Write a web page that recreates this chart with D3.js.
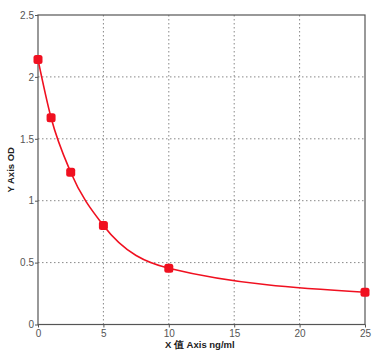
<!DOCTYPE html>
<html>
<head>
<meta charset="utf-8">
<script src="https://cdn.jsdelivr.net/npm/d3@7"></script>
<style>
  body { margin: 0; background: #fff; }
  text { font-family: "Liberation Sans", Arial, sans-serif; }
</style>
</head>
<body>
<div id="chart"></div>
<script>
const conc = [0, 1, 2.5, 5, 10, 25];
const od = [2.14, 1.67, 1.23, 0.8, 0.455, 0.26];
const xTicks = [0, 5, 10, 15, 20, 25];
const yTicks = [0, 0.5, 1, 1.5, 2, 2.5];

const width = 387, height = 356;
const margin = { top: 15, right: 22, bottom: 32, left: 38 };

const svg = d3.select("#chart").append("svg")
  .attr("width", width).attr("height", height);

const x = d3.scaleLinear().domain([0, 25]).range([margin.left, width - margin.right]);
const y = d3.scaleLinear().domain([0, 2.5]).range([height - margin.bottom + 0.5, margin.top]);

// grid
svg.append("g").selectAll("line.gx")
  .data(xTicks.slice(1, -1)).join("line")
  .attr("x1", d => x(d)).attr("x2", d => x(d))
  .attr("y1", y(0)).attr("y2", y(2.5))
  .attr("stroke", "#888").attr("stroke-dasharray", "1.5,2.5");
svg.append("g").selectAll("line.gy")
  .data(yTicks.slice(1, -1)).join("line")
  .attr("y1", d => y(d)).attr("y2", d => y(d))
  .attr("x1", x(0)).attr("x2", x(25))
  .attr("stroke", "#888").attr("stroke-dasharray", "1.5,2.5");

// frame
svg.append("rect")
  .attr("x", x(0)).attr("y", y(2.5))
  .attr("width", x(25) - x(0)).attr("height", y(0) - y(2.5))
  .attr("fill", "none").attr("stroke", "#555").attr("stroke-width", 1.2);

// axes
const xAxis = svg.append("g")
  .attr("transform", `translate(0,${y(0)})`)
  .call(d3.axisBottom(x).tickValues(xTicks).tickSize(3).tickSizeOuter(0));
const yAxis = svg.append("g")
  .attr("transform", `translate(${x(0)},0)`)
  .call(d3.axisLeft(y).tickValues(yTicks).tickSize(3).tickSizeOuter(0).tickFormat(d3.format("")));
[xAxis, yAxis].forEach(a => {
  a.select(".domain").remove();
  a.selectAll(".tick line").attr("stroke", "#555");
  a.selectAll(".tick text").attr("fill", "#555").attr("font-size", 10);
});
xAxis.selectAll(".tick text").attr("dy", "0.6em");
yAxis.selectAll(".tick text").attr("x", -4);

// curve
svg.append("path")
  .datum(conc.map((c, i) => [c, od[i]]))
  .attr("fill", "none").attr("stroke", "#f01020").attr("stroke-width", 1.6)
  .attr("d", d3.line().x(d => x(d[0])).y(d => y(d[1])).curve(d3.curveMonotoneX));

svg.append("g").selectAll("rect")
  .data(conc.map((c, i) => [c, od[i]])).join("rect")
  .attr("x", d => x(d[0]) - 4.5).attr("y", d => y(d[1]) - 4.5)
  .attr("width", 9).attr("height", 9).attr("rx", 2.5)
  .attr("fill", "#f01020");

// labels
svg.append("text")
  .attr("x", 165).attr("y", 348)
  .attr("font-size", 9.5).attr("font-weight", "bold").attr("fill", "#222")
  .text("X 值 Axis ng/ml");
svg.append("text")
  .attr("transform", `translate(14,${(y(0) + y(2.5)) / 2}) rotate(-90)`)
  .attr("text-anchor", "middle")
  .attr("font-size", 9.5).attr("font-weight", "bold").attr("fill", "#222")
  .text("Y Axis OD");
</script>
</body>
</html>
